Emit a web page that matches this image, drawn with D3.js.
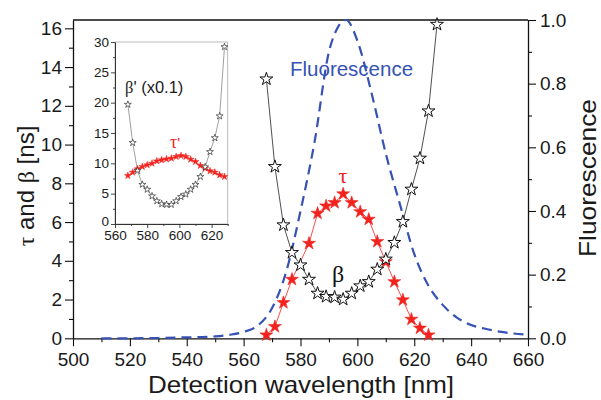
<!DOCTYPE html>
<html><head><meta charset="utf-8">
<script src="https://cdn.jsdelivr.net/npm/d3@7"></script>
<style>
body{margin:0;background:#fff;}
svg{display:block;font-family:"Liberation Sans",Arial,sans-serif;}
</style></head>
<body><svg id="c" width="601" height="400"></svg>
<script>
// ---------- data ----------
const betaWavelengths = [568,571,574,577,580,583,586,589,592,595,598,601,604,607,610,613,616,619,622,625,628];
const betaValues = [13.38,8.86,5.85,4.42,3.78,3.04,2.32,2.15,2.12,2.01,2.32,2.70,2.92,3.56,4.08,4.94,6.02,7.69,9.29,11.73,16.2];
const tauWavelengths = [568,571,574,577,583,586,589,592,595,598,601,604,607,610,613,616,619,622,625];
const tauValues = [0.17,0.6,1.84,3.04,4.9,6.45,6.83,7.0,7.45,7.0,6.53,6.14,4.99,3.95,2.92,1.98,0.98,0.52,0.17];
const fluoWavelengths = [510,520,530,540,545,550,555,560,565,570,575,580,585,590,593,596,600,605,610,615,620,625,630,635,640,645,650,655,660];
const fluoValues = [0,0,0.001,0.003,0.004,0.006,0.011,0.02,0.04,0.095,0.21,0.40,0.62,0.90,0.975,1.0,0.935,0.77,0.58,0.42,0.265,0.165,0.105,0.065,0.042,0.03,0.021,0.015,0.011];
// inset
const insetWavelengths = [568,571,574,577,580,583,586,589,592,595,598,601,604,607,610,613,616,619,622,625,628];
const betaPrimeValues = [19.7,13.4,8.8,6.5,5.7,4.6,3.8,3.3,3.2,3.2,3.8,4.5,4.9,5.7,6.5,7.8,9.4,11.9,14.2,17.8,29.2];
const tauPrimeValues = [7.97,8.52,9.07,9.45,9.73,10.0,10.38,10.55,10.71,10.82,11.1,11.26,11.1,10.66,10.27,9.62,9.18,8.74,8.52,8.08,7.8];
const xTicks = [500,520,540,560,580,600,620,640,660];
const yLeftTicks = [0,2,4,6,8,10,12,14,16];
const yRightTicks = [0,0.2,0.4,0.6,0.8,1.0];
const insetXTicks = [560,580,600,620];
const insetYTicks = [0,5,10,15,20,25,30];

const RED = "#f2231f", BLUE = "#3652b5";
const svg = d3.select("#c");

// ---------- scales ----------
const x = d3.scaleLinear().domain([500,660]).range([73,528]);
const yL = d3.scaleLinear().domain([0,16.43]).range([338.3,20]);
const yR = d3.scaleLinear().domain([0,1]).range([338.3,20]);
const xi = d3.scaleLinear().domain([560,630]).range([115,227.7]);
const yi = d3.scaleLinear().domain([0,30]).range([224,42]);

function styleAxis(g, fs){
  g.selectAll("path.domain").attr("stroke","#111").attr("stroke-width",1.3);
  g.selectAll(".tick line").attr("stroke","#111").attr("stroke-width",1.1);
  g.selectAll("text").attr("font-size",fs).attr("fill","#1a1a1a").attr("font-family","Liberation Sans, Arial, sans-serif");
}

// frame top
svg.append("line").attr("x1",73).attr("x2",528).attr("y1",20).attr("y2",20).attr("stroke","#111").attr("stroke-width",1.3);

// main axes
const minorX = d3.range(510,660,20);
svg.append("g").attr("transform","translate(0,338.3)")
  .call(d3.axisBottom(x).tickValues(minorX).tickSize(4).tickFormat("")).call(g=>styleAxis(g,19)).select(".domain").remove();
svg.append("g").attr("transform","translate(0,338.3)")
  .call(d3.axisBottom(x).tickValues(xTicks).tickSize(8).tickPadding(6).tickSizeOuter(0)).call(g=>styleAxis(g,19));

svg.append("g").attr("transform","translate(73,0)")
  .call(d3.axisLeft(yL).tickValues(d3.range(1,16.5,2)).tickSize(4).tickFormat("")).call(g=>styleAxis(g,19)).select(".domain").remove();
svg.append("g").attr("transform","translate(73,0)")
  .call(d3.axisLeft(yL).tickValues(yLeftTicks).tickSize(8).tickPadding(3).tickSizeOuter(0)).call(g=>styleAxis(g,19));

svg.append("g").attr("transform","translate(528,0)")
  .call(d3.axisRight(yR).tickValues(d3.range(0.1,1,0.2)).tickSize(4).tickFormat("")).call(g=>styleAxis(g,19)).select(".domain").remove();
svg.append("g").attr("transform","translate(528,0)")
  .call(d3.axisRight(yR).tickValues(yRightTicks).tickSize(8).tickPadding(4).tickSizeOuter(0).tickFormat(d3.format(".1f"))).call(g=>styleAxis(g,19));

// axis titles
svg.append("text").attr("x",301).attr("y",393).attr("text-anchor","middle")
  .attr("font-size",24).attr("fill","#1a1a1a").attr("textLength",306).attr("lengthAdjust","spacingAndGlyphs")
  .text("Detection wavelength [nm]");
const lt = svg.append("text").attr("transform","translate(34,186) rotate(-90)").attr("text-anchor","middle")
  .attr("font-size",24).attr("fill","#1a1a1a");
lt.append("tspan").attr("font-family","Liberation Serif, serif").text("τ");
lt.append("tspan").text(" and ");
lt.append("tspan").attr("font-family","Liberation Serif, serif").text("β");
lt.append("tspan").text(" [ns]");
svg.append("text").attr("transform","translate(596,178) rotate(-90)").attr("text-anchor","middle")
  .attr("font-size",24).attr("fill","#1a1a1a").attr("textLength",158).attr("lengthAdjust","spacingAndGlyphs")
  .text("Fluorescence");

// fluorescence curve
svg.append("path").datum(fluoWavelengths.map((w,i)=>[w,fluoValues[i]]))
  .attr("d",d3.line().x(d=>x(d[0])).y(d=>yR(d[1])).curve(d3.curveMonotoneX))
  .attr("fill","none").attr("stroke",BLUE).attr("stroke-width",2.2).attr("stroke-dasharray","10,6");

// tau line + stars
const tauPts = tauWavelengths.map((w,i)=>[w,tauValues[i]]);
svg.append("path").datum(tauPts).attr("d",d3.line().x(d=>x(d[0])).y(d=>yL(d[1])))
  .attr("fill","none").attr("stroke",RED).attr("stroke-width",0.8);
const betaPts = betaWavelengths.map((w,i)=>[w,betaValues[i]]);
svg.append("path").datum(betaPts).attr("d",d3.line().x(d=>x(d[0])).y(d=>yL(d[1])))
  .attr("fill","none").attr("stroke","#222").attr("stroke-width",0.8);

const bigStar = d3.symbol().type(d3.symbolStar).size(52);
svg.append("g").selectAll("path").data(tauPts).join("path")
  .attr("transform",d=>`translate(${x(d[0])},${yL(d[1])})`).attr("d",bigStar)
  .attr("fill",RED).attr("stroke",RED).attr("stroke-width",0.6);
svg.append("g").selectAll("path").data(betaPts).join("path")
  .attr("transform",d=>`translate(${x(d[0])},${yL(d[1])})`).attr("d",bigStar)
  .attr("fill","#fff").attr("stroke","#111").attr("stroke-width",1);

// labels
svg.append("text").attr("x",290).attr("y",76).attr("font-size",20.5).attr("fill",BLUE).text("Fluorescence");
svg.append("text").attr("x",343).attr("y",183).attr("text-anchor","middle").attr("font-size",22)
  .attr("font-family","Liberation Serif, serif").attr("fill",RED).text("τ");
svg.append("text").attr("x",338).attr("y",282).attr("text-anchor","middle").attr("font-size",24)
  .attr("font-family","Liberation Serif, serif").attr("fill","#111").text("β");

// ---------- inset ----------
svg.append("rect").attr("x",115).attr("y",42).attr("width",112.7).attr("height",182).attr("fill","#fff")
  .attr("stroke","#aaa").attr("stroke-width",0.8);
function styleInset(g){
  g.selectAll("path.domain").attr("stroke","#333").attr("stroke-width",1);
  g.selectAll(".tick line").attr("stroke","#333").attr("stroke-width",0.9);
  g.selectAll("text").attr("font-size",13.5).attr("fill","#1a1a1a").attr("font-family","Liberation Sans, Arial, sans-serif");
}
svg.append("g").attr("transform","translate(0,224)")
  .call(d3.axisBottom(xi).tickValues([570,590,610,630]).tickSize(2).tickFormat("")).call(styleInset).select(".domain").remove();
svg.append("g").attr("transform","translate(0,224)")
  .call(d3.axisBottom(xi).tickValues(insetXTicks).tickSize(4).tickPadding(2).tickSizeOuter(0)).call(styleInset);
svg.append("g").attr("transform","translate(115,0)")
  .call(d3.axisLeft(yi).tickValues(d3.range(2.5,30,5)).tickSize(2).tickFormat("")).call(styleInset).select(".domain").remove();
const iy = svg.append("g").attr("transform","translate(115,0)")
  .call(d3.axisLeft(yi).tickValues(insetYTicks).tickSize(4).tickPadding(2).tickSizeOuter(0)).call(styleInset);
iy.selectAll(".tick text").filter(d=>d===0).attr("dy","0.1em");

const bpPts = insetWavelengths.map((w,i)=>[w,betaPrimeValues[i]]);
const tpPts = insetWavelengths.map((w,i)=>[w,tauPrimeValues[i]]);
svg.append("path").datum(bpPts).attr("d",d3.line().x(d=>xi(d[0])).y(d=>yi(d[1])))
  .attr("fill","none").attr("stroke","#888").attr("stroke-width",0.8);
svg.append("path").datum(tpPts).attr("d",d3.line().x(d=>xi(d[0])).y(d=>yi(d[1])))
  .attr("fill","none").attr("stroke",RED).attr("stroke-width",0.8);
const smallStar = d3.symbol().type(d3.symbolStar).size(15);
svg.append("g").selectAll("path").data(tpPts).join("path")
  .attr("transform",d=>`translate(${xi(d[0])},${yi(d[1])})`).attr("d",smallStar)
  .attr("fill",RED).attr("stroke",RED).attr("stroke-width",0.5);
svg.append("g").selectAll("path").data(bpPts).join("path")
  .attr("transform",d=>`translate(${xi(d[0])},${yi(d[1])})`).attr("d",smallStar)
  .attr("fill","#fff").attr("stroke","#333").attr("stroke-width",0.7);

const bl = svg.append("text").attr("x",125).attr("y",92.5).attr("font-size",16.5).attr("fill","#1a1a1a");
bl.append("tspan").attr("font-family","Liberation Serif, serif").text("β");
bl.append("tspan").text("' (x0.1)");
const tl = svg.append("text").attr("x",170).attr("y",148).attr("font-size",18).attr("fill",RED);
tl.append("tspan").attr("font-family","Liberation Serif, serif").text("τ");
tl.append("tspan").attr("font-size",15).text("'");
</script></body></html>
